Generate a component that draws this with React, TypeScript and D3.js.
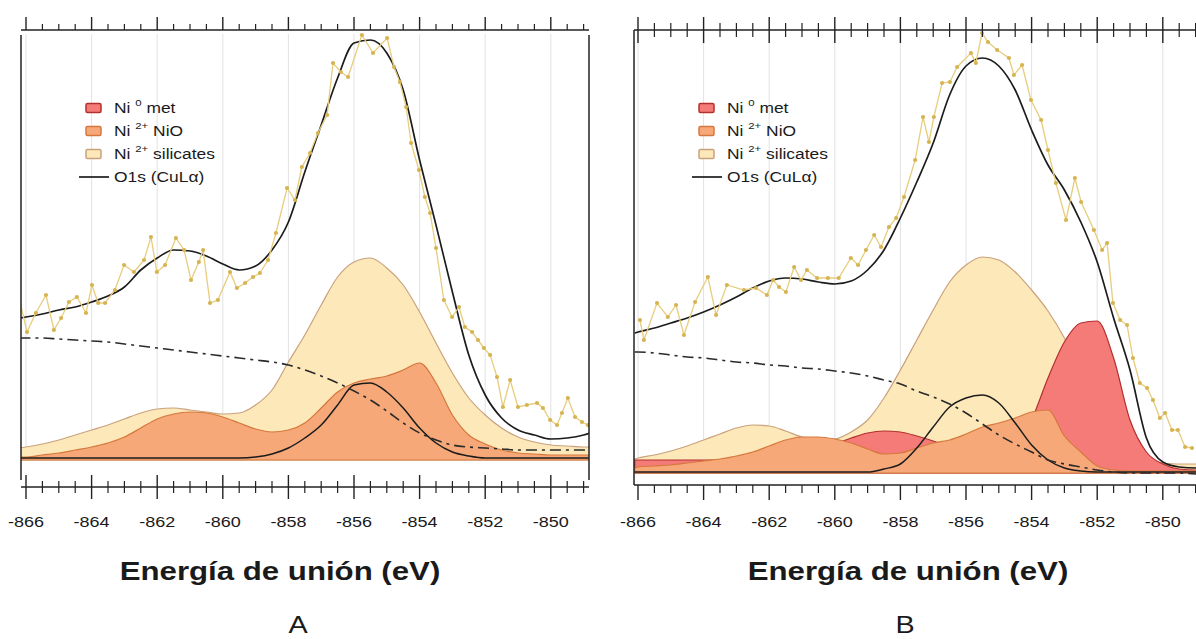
import * as d3 from "d3";

// energy grid (eV) on which the fitted components were read
const gridA = [-866.2, -866, -865.5, -865, -864.5, -864, -863.5, -863, -862.5, -862, -861.5, -861, -860.5, -860, -859.5, -859, -858.5, -858, -857.5, -857, -856.5, -856, -855.5, -855, -854.5, -854, -853.5, -853, -852.5, -852, -851.5, -851, -850.5, -850, -849.5, -849, -848.8];
const envelopeA = [1420, 1430, 1460, 1500, 1530, 1580, 1640, 1730, 1900, 2020, 2100, 2090, 2040, 1960, 1900, 1940, 2100, 2380, 2880, 3350, 3820, 4170, 4200, 4070, 3700, 3000, 2350, 1680, 1050, 650, 420, 300, 250, 210, 220, 250, 270];
const silicatesA = [120, 130, 160, 200, 250, 300, 350, 410, 470, 510, 520, 500, 480, 460, 470, 550, 700, 980, 1250, 1550, 1830, 1980, 2020, 1920, 1750, 1480, 1170, 870, 620, 450, 320, 230, 180, 150, 140, 130, 130];
const nioA = [30, 30, 50, 70, 100, 130, 170, 230, 320, 410, 460, 480, 470, 430, 370, 310, 280, 300, 370, 520, 680, 770, 810, 840, 900, 970, 770, 450, 250, 160, 100, 70, 60, 50, 50, 50, 50];
const o1sA = [20, 20, 20, 20, 20, 20, 20, 20, 20, 20, 20, 20, 20, 20, 20, 30, 60, 120, 220, 350, 550, 750, 770, 680, 520, 320, 170, 80, 40, 20, 20, 20, 20, 20, 20, 20, 20];
const backgroundA = [1220, 1220, 1220, 1210, 1200, 1190, 1180, 1160, 1140, 1120, 1100, 1080, 1060, 1040, 1020, 1000, 980, 950, 900, 840, 770, 690, 600, 490, 370, 270, 200, 150, 130, 120, 110, 100, 100, 100, 100, 100, 100];

// measured spectrum A
const measuredEA = [-866.21, -865.97, -865.7, -865.39, -865.15, -864.93, -864.69, -864.45, -864.17, -863.99, -863.8, -863.59, -863.29, -863.01, -862.71, -862.4, -862.19, -862.01, -861.76, -861.43, -861.18, -860.97, -860.73, -860.6, -860.39, -860.15, -859.78, -859.57, -859.32, -859.08, -858.87, -858.62, -858.38, -858.04, -857.8, -857.59, -857.34, -857.1, -856.82, -856.64, -856.4, -856.18, -855.76, -855.42, -854.99, -854.78, -854.6, -854.41, -854.26, -854.02, -853.84, -853.68, -853.5, -853.26, -853.01, -852.8, -852.62, -852.4, -852.22, -852.04, -851.85, -851.64, -851.46, -851.24, -851, -850.73, -850.42, -850.24, -850.02, -849.81, -849.66, -849.48, -849.26, -849.05, -848.87];
const measuredIA = [1620, 1280, 1470, 1650, 1300, 1420, 1580, 1630, 1470, 1750, 1570, 1570, 1700, 1950, 1880, 2000, 2230, 1880, 1950, 2220, 2100, 1800, 1980, 2100, 1570, 1600, 1880, 1720, 1770, 1830, 1870, 2000, 2270, 2720, 2600, 2930, 3070, 3270, 3450, 3970, 3880, 3830, 4250, 4070, 4220, 3930, 3780, 3530, 3170, 2900, 2630, 2470, 2120, 1600, 1430, 1530, 1330, 1280, 1200, 1120, 1050, 830, 530, 800, 530, 550, 570, 520, 400, 350, 470, 620, 430, 380, 350];

const gridB = [-866.1, -866, -865.5, -865, -864.5, -864, -863.5, -863, -862.5, -862, -861.5, -861, -860.5, -860, -859.5, -859, -858.5, -858, -857.5, -857, -856.5, -856, -855.5, -855, -854.5, -854, -853.5, -853, -852.5, -852, -851.5, -851, -850.5, -850, -849.5, -849, -848.8];
const envelopeB = [1400, 1410, 1450, 1500, 1550, 1610, 1680, 1760, 1850, 1920, 1950, 1940, 1910, 1890, 1920, 2030, 2230, 2550, 2910, 3300, 3780, 4070, 4150, 4070, 3830, 3430, 3080, 2830, 2510, 2110, 1550, 1030, 350, 110, 60, 50, 50];
const silicatesB = [140, 150, 180, 220, 270, 330, 390, 450, 480, 470, 420, 360, 330, 340, 410, 530, 750, 1030, 1330, 1630, 1910, 2080, 2160, 2130, 2010, 1830, 1620, 1350, 1000, 620, 330, 180, 120, 100, 90, 90, 90];
const nioB = [50, 60, 70, 80, 100, 120, 140, 170, 210, 270, 330, 360, 360, 340, 300, 240, 190, 200, 250, 300, 330, 390, 460, 500, 550, 610, 630, 370, 210, 70, 30, 20, 20, 20, 20, 20, 20];
const metB = [130, 130, 130, 130, 130, 130, 130, 140, 160, 180, 200, 220, 240, 290, 350, 400, 420, 410, 370, 320, 260, 210, 180, 180, 250, 530, 950, 1310, 1500, 1520, 1150, 530, 210, 90, 40, 30, 30];
const o1sB = [10, 10, 10, 10, 10, 10, 10, 10, 10, 10, 10, 10, 10, 10, 10, 10, 40, 90, 250, 460, 660, 750, 780, 700, 500, 280, 130, 50, 20, 10, 10, 10, 10, 10, 10, 10, 10];
const backgroundB = [1210, 1210, 1200, 1180, 1160, 1150, 1130, 1110, 1100, 1080, 1070, 1050, 1040, 1020, 1000, 970, 930, 890, 820, 760, 690, 600, 490, 380, 290, 210, 130, 90, 60, 30, 10, 0, 0, 0, 0, -10, -10];

const measuredEB = [-865.94, -865.82, -865.42, -865.09, -864.84, -864.6, -864.26, -863.87, -863.62, -863.29, -862.77, -862.4, -862.07, -861.88, -861.7, -861.49, -861.24, -861.03, -860.85, -860.54, -860.21, -859.88, -859.51, -859.29, -859.05, -858.8, -858.59, -858.35, -858.13, -857.89, -857.55, -857.31, -857.13, -856.98, -856.73, -856.49, -856.27, -855.85, -855.7, -855.51, -855.33, -855.05, -854.69, -854.54, -854.29, -854.02, -853.71, -853.5, -853.26, -852.95, -852.68, -852.49, -852.1, -851.85, -851.7, -851.52, -851.3, -851.09, -850.91, -850.7, -850.48, -850.3, -850.09, -849.93, -849.72, -849.54, -849.32, -849.11];
const measuredIB = [1530, 1330, 1700, 1560, 1680, 1380, 1710, 1960, 1580, 1880, 1830, 1850, 1780, 1930, 1860, 1810, 2060, 1930, 2030, 1950, 1950, 1950, 2150, 2080, 2230, 2380, 2260, 2460, 2550, 2760, 3130, 3560, 3310, 3560, 3900, 3910, 4060, 4200, 4100, 4400, 4310, 4230, 4150, 3980, 4080, 3730, 3530, 3230, 2900, 2530, 2950, 2710, 2430, 2230, 2300, 1700, 1530, 1480, 1150, 900, 850, 730, 550, 600, 430, 430, 260, 250];

const majorTicks = [-866, -864, -862, -860, -858, -856, -854, -852, -850];
const legendLabels = [
  { sup: "0", rest: "met" },
  { sup: "2+", rest: "NiO" },
  { sup: "2+", rest: "silicates" },
];
const xTitle = "Energía de unión (eV)";

const FONT = "'Liberation Sans', Arial, sans-serif";
const C = {
  met: { fill: "#f57b79", stroke: "#b2302e" },
  nio: { fill: "#f6a878", stroke: "#d5783d" },
  sil: { fill: "#fde8ba", stroke: "#c9a27c" },
  line: "#1c1c1c",
  meas: "#e7cd7d",
  dot: "#d5b451",
  grid: "#e2e2e2",
};

// horizontally stretched text, as in the scanned figure
function SText({ x, y, size, weight = "normal", anchor = "middle", children }: any) {
  return (
    <g transform={`translate(${x},${y}) scale(1.2,1)`}>
      <text textAnchor={anchor} fontSize={size} fontWeight={weight} fontFamily={FONT} fill="#1a1a1a">
        {children}
      </text>
    </g>
  );
}

function Panel({ L, grid, env, sil, nio, met, o1s, bg, mE, mI, tag, id }: any) {
  const x = d3.scaleLinear().domain([-866, -850]).range([L.x0, L.x1]);
  const y = d3.scaleLinear().domain([0, L.vmax]).range([L.base, L.top]);

  const area = (vals: number[]) =>
    d3.area<number>().x((_, i) => x(grid[i])).y0(y(0)).y1((d) => y(d)).curve(d3.curveMonotoneX)(vals) || "";
  const line = (vals: number[]) =>
    d3.line<number>().x((_, i) => x(grid[i])).y((d) => y(d)).curve(d3.curveMonotoneX)(vals) || "";
  const measLine = d3.line<number>().x((_, i) => x(mE[i])).y((d) => y(d))(mI) || "";

  const minor = d3.range(-866, -848.6, 0.5).filter((v) => !majorTicks.includes(v) && x(v) <= L.right);
  const T = L.ticks;

  return (
    <g>
      <defs>
        <clipPath id={id}>
          <rect x={L.left} y={L.axisTop} width={L.right - L.left} height={L.base - L.axisTop + 2} />
        </clipPath>
      </defs>
      {majorTicks.map((v) => (
        <line key={v} x1={x(v)} x2={x(v)} y1={L.gridTop} y2={L.base} stroke={C.grid} strokeWidth={1} />
      ))}
      <g clipPath={`url(#${id})`}>
        <path d={area(sil)} fill={C.sil.fill} stroke={C.sil.stroke} strokeWidth={1.2} />
        {met && <path d={area(met)} fill={C.met.fill} stroke={C.met.stroke} strokeWidth={1.2} />}
        <path d={area(nio)} fill={C.nio.fill} stroke={C.nio.stroke} strokeWidth={1.2} />
        <path d={line(o1s)} fill="none" stroke={C.line} strokeWidth={1.5} />
        <path d={line(bg)} fill="none" stroke="#2a2a2a" strokeWidth={1.6} strokeDasharray="11,5,3,5" />
        <path d={line(env)} fill="none" stroke={C.line} strokeWidth={1.7} />
        <path d={measLine} fill="none" stroke={C.meas} strokeWidth={1.3} />
        {mI.map((d: number, i: number) => (
          <circle key={i} cx={x(mE[i])} cy={y(d)} r={2.1} fill={C.dot} />
        ))}
      </g>

      {/* frame */}
      <line x1={L.left} x2={L.left} y1={L.frameTop} y2={L.frameBottom} stroke="#222" strokeWidth={1.5} />
      {L.rightFrame && <line x1={L.right} x2={L.right} y1={L.frameTop} y2={L.frameBottom} stroke="#222" strokeWidth={1.5} />}

      {/* top axis */}
      <line x1={L.left} x2={L.right} y1={L.axisTop} y2={L.axisTop} stroke="#222" strokeWidth={1.5} />
      {majorTicks.map((v) => (
        <line key={v} x1={x(v)} x2={x(v)} y1={L.axisTop - T.topMaj[0]} y2={L.axisTop + T.topMaj[1]} stroke="#222" strokeWidth={1.4} />
      ))}
      {minor.map((v) => (
        <line key={v} x1={x(v)} x2={x(v)} y1={L.axisTop - T.topMin[0]} y2={L.axisTop + T.topMin[1]} stroke="#222" strokeWidth={1.2} />
      ))}

      {/* bottom axis */}
      <line x1={L.left} x2={L.right} y1={L.axisBottom} y2={L.axisBottom} stroke="#222" strokeWidth={1.5} />
      {majorTicks.map((v) => (
        <line key={v} x1={x(v)} x2={x(v)} y1={L.axisBottom - T.botMaj[0]} y2={L.axisBottom + T.botMaj[1]} stroke="#222" strokeWidth={1.4} />
      ))}
      {minor.map((v) => (
        <line key={v} x1={x(v)} x2={x(v)} y1={L.axisBottom - T.botMin[0]} y2={L.axisBottom + T.botMin[1]} stroke="#222" strokeWidth={1.2} />
      ))}
      {majorTicks.map((v) => (
        <SText key={v} x={x(v)} y={527} size={15}>
          {String(v)}
        </SText>
      ))}

      {/* legend */}
      {legendLabels.map((d, i) => {
        const c = [C.met, C.nio, C.sil][i];
        const ry = L.legendY + i * 23;
        return (
          <g key={i}>
            <rect x={L.legendX} y={ry - 4.5} width={15} height={9} rx={1.5} fill={c.fill} stroke={c.stroke} strokeWidth={1.5} />
            <g transform={`translate(${L.legendX + 28},${ry + 5}) scale(1.2,1)`}>
              <text fontSize={14.5} fontFamily={FONT} fill="#1a1a1a">
                Ni{" "}
                <tspan dy={-7} fontSize={9.5}>
                  {d.sup}
                </tspan>
                <tspan dy={7}> {d.rest}</tspan>
              </text>
            </g>
          </g>
        );
      })}
      <line x1={L.legendX - 7} x2={L.legendX + 23} y1={L.legendY + 69} y2={L.legendY + 69} stroke={C.line} strokeWidth={1.7} />
      <SText x={L.legendX + 28} y={L.legendY + 74} size={14.5} anchor="start">
        O1s (CuLα)
      </SText>

      <SText x={L.titleX} y={580} size={26} weight="bold">
        {xTitle}
      </SText>
      <SText x={L.tagX} y={633} size={24}>
        {tag}
      </SText>
    </g>
  );
}

const layoutA = {
  left: 21, right: 589, x0: 26, x1: 550.8, top: 36, base: 460, vmax: 4240,
  axisTop: 30, axisBottom: 487, frameTop: 35, frameBottom: 480, gridTop: 34, rightFrame: true,
  ticks: { topMaj: [13, 0], topMin: [6, 0], botMaj: [12, 12], botMin: [6, 6] },
  legendX: 86, legendY: 108, titleX: 280, tagX: 298,
};
const layoutB = {
  left: 634, right: 1196, x0: 638, x1: 1162.8, top: 37, base: 473, vmax: 4360,
  axisTop: 30, axisBottom: 485, frameTop: 30, frameBottom: 485, gridTop: 30, rightFrame: false,
  ticks: { topMaj: [13, 13], topMin: [7, 7], botMaj: [0, 15], botMin: [0, 8] },
  legendX: 699, legendY: 108, titleX: 908, tagX: 905,
};

export default function App() {
  return (
    <svg width={1196} height={639} style={{ position: "absolute", left: 0, top: 0, background: "#fff" }}>
      <rect width={1196} height={639} fill="#fff" />
      <Panel L={layoutA} id="clipA" tag="A" grid={gridA} env={envelopeA} sil={silicatesA} nio={nioA} o1s={o1sA} bg={backgroundA} mE={measuredEA} mI={measuredIA} />
      <Panel L={layoutB} id="clipB" tag="B" grid={gridB} env={envelopeB} sil={silicatesB} nio={nioB} met={metB} o1s={o1sB} bg={backgroundB} mE={measuredEB} mI={measuredIB} />
    </svg>
  );
}
